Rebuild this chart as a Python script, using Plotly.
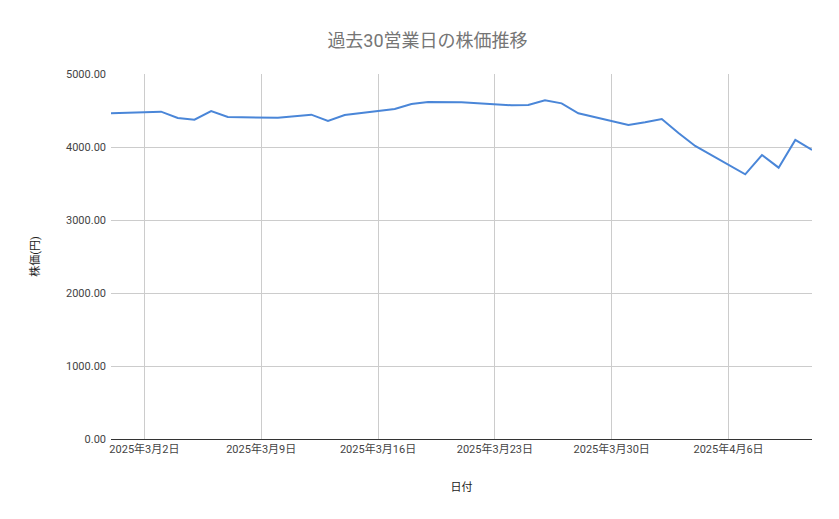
import plotly.graph_objects as go

dates = [
    "2025-02-28",
    "2025-03-03", "2025-03-04", "2025-03-05", "2025-03-06", "2025-03-07",
    "2025-03-10", "2025-03-11", "2025-03-12", "2025-03-13", "2025-03-14",
    "2025-03-17", "2025-03-18", "2025-03-19", "2025-03-20", "2025-03-21",
    "2025-03-24", "2025-03-25", "2025-03-26", "2025-03-27", "2025-03-28",
    "2025-03-31", "2025-04-01", "2025-04-02", "2025-04-03", "2025-04-04",
    "2025-04-07", "2025-04-08", "2025-04-09", "2025-04-10", "2025-04-11",
]
prices = [
    4462,
    4484, 4397, 4374, 4493, 4411,
    4401, 4420, 4443, 4356, 4438,
    4520, 4590, 4616, 4616, 4612,
    4571, 4575, 4640, 4598, 4462,
    4301, 4338, 4384, 4192, 4014,
    3626, 3890, 3717, 4096, 3959,
]
tick_dates = ["2025-03-02", "2025-03-09", "2025-03-16", "2025-03-23", "2025-03-30", "2025-04-06"]
tick_labels = ["2025年3月2日", "2025年3月9日", "2025年3月16日", "2025年3月23日", "2025年3月30日", "2025年4月6日"]

font = "Roboto, 'Noto Sans CJK JP', sans-serif"

fig = go.Figure(
    go.Scatter(
        x=dates,
        y=prices,
        mode="lines",
        line=dict(color="#4a86d8", width=2),
        showlegend=False,
    )
)

# page body adds an 8px offset, so margins are shifted to compensate
fig.update_layout(
    width=839,
    height=519,
    paper_bgcolor="white",
    plot_bgcolor="white",
    font=dict(family=font, color="#444444", size=11),
    title=dict(
        text="過去30営業日の株価推移",
        x=0.5,
        y=0.95,
        xanchor="center",
        font=dict(size=18, color="#757575"),
    ),
    margin=dict(l=103, r=35, t=66, b=88),
)
fig.update_xaxes(
    range=["2025-02-28", "2025-04-11"],
    tickvals=tick_dates,
    ticktext=tick_labels,
    showgrid=True,
    gridcolor="#cccccc",
    showline=True,
    linecolor="#333333",
    ticks="",
    automargin=False,
    title=dict(text="日付", font=dict(size=11, color="#222222"), standoff=28),
)
fig.update_yaxes(
    range=[0, 5000],
    tickvals=[0, 1000, 2000, 3000, 4000, 5000],
    tickformat=".2f",
    showgrid=True,
    gridcolor="#cccccc",
    zeroline=False,
    ticks="",
    ticklabelstandoff=4,
    automargin=False,
    title=dict(text="株価(円)", font=dict(size=11, color="#222222"), standoff=24),
)

fig.write_html("out.html")
